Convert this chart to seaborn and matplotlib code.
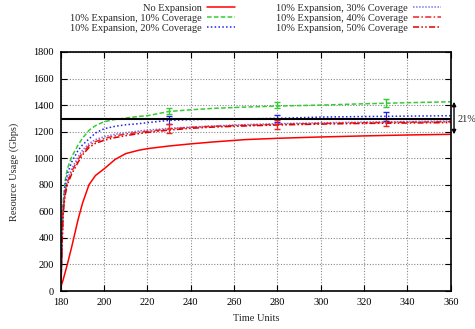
import numpy as np
import pandas as pd
import matplotlib
matplotlib.use("Agg")
import matplotlib.pyplot as plt
import seaborn as sns

# ---- data ----
t = [180, 181, 182, 183, 185, 188, 190, 193, 196, 200, 205, 210, 216, 220, 230, 240, 250, 265, 280, 300, 320, 340, 360]
no_exp  = [30, 80, 140, 200, 330, 540, 660, 800, 870, 920, 990, 1035, 1060, 1072, 1092, 1108, 1122, 1140, 1150, 1160, 1168, 1175, 1180]
cov10   = [0, 650, 830, 920, 1010, 1100, 1150, 1210, 1245, 1275, 1292, 1302, 1315, 1320, 1352, 1365, 1375, 1385, 1393, 1400, 1410, 1418, 1425]
cov20   = [0, 620, 800, 880, 970, 1060, 1100, 1145, 1190, 1222, 1240, 1252, 1260, 1268, 1285, 1290, 1293, 1296, 1300, 1310, 1314, 1317, 1320]
cov30   = [0, 600, 760, 840, 920, 1010, 1060, 1110, 1140, 1162, 1180, 1192, 1205, 1212, 1225, 1235, 1243, 1253, 1260, 1267, 1272, 1276, 1280]
cov40   = [0, 590, 740, 820, 900, 990, 1040, 1095, 1125, 1148, 1168, 1182, 1195, 1202, 1220, 1232, 1240, 1248, 1255, 1262, 1267, 1271, 1275]
cov50   = [0, 570, 720, 800, 880, 970, 1025, 1080, 1112, 1135, 1155, 1170, 1185, 1194, 1212, 1225, 1234, 1243, 1250, 1257, 1262, 1265, 1268]

err_t = [230, 280, 330]
err_cov10 = [1355, 1400, 1417]
err_cov10_e = [25, 25, 28]
err_cov20 = [1285, 1300, 1312]
err_cov20_e = [30, 28, 35]
err_cov40 = [1222, 1255, 1268]
err_cov40_e = [33, 33, 27]

labels = ["No Expansion",
          "10% Expansion, 10% Coverage",
          "10% Expansion, 20% Coverage",
          "10% Expansion, 30% Coverage",
          "10% Expansion, 40% Coverage",
          "10% Expansion, 50% Coverage"]
series = [no_exp, cov10, cov20, cov30, cov40, cov50]
colors = ["#ff0000", "#33cc33", "#2222ee", "#7777ee", "#ee2222", "#dd0000"]
styles = ["-", (0, (3, 1.5)), (0, (1, 1.5)), (0, (1, 1)), (0, (4, 1.5, 1, 1.5)), (0, (4, 1.5, 1, 1.5, 1, 1.5))]

ref_level = 1295
arrow_top, arrow_bot = 1425, 1180

# ---- plot ----
sns.set_style("ticks")
plt.rcParams["font.family"] = ["Liberation Serif", "DejaVu Serif"]
plt.rcParams["font.size"] = 7.5
FS = 7.5

df = pd.concat([pd.DataFrame({"t": t, "v": s, "series": lab}) for s, lab in zip(series, labels)])

fig = plt.figure(figsize=(4.75, 3.29), dpi=100)
ax = fig.add_axes([0.128, 0.1155, 0.821, 0.7265])

for lab, col, ls in zip(labels, colors, styles):
    sns.lineplot(data=df[df["series"] == lab], x="t", y="v", ax=ax, color=col,
                 linestyle=ls, linewidth=1.1, label=lab)

ax.errorbar(err_t, err_cov20, yerr=err_cov20_e, fmt="none", ecolor=colors[2], elinewidth=0.8, capsize=2)
ax.errorbar(err_t, err_cov10, yerr=err_cov10_e, fmt="none", ecolor=colors[1], elinewidth=1, capsize=2)
ax.errorbar(err_t, err_cov40, yerr=err_cov40_e, fmt="none", ecolor=colors[4], elinewidth=1, capsize=2)

ax.axhline(ref_level, color="black", linewidth=1.5, zorder=5)

ax.set_xlim(180, 360)
ax.set_ylim(0, 1800)
ax.set_xticks(range(180, 361, 20))
ax.set_yticks(range(0, 1801, 200))
ax.grid(True, color="#888888", linestyle=(0, (1, 1.5)), linewidth=0.8)
ax.tick_params(direction="in", top=True, right=True, length=4, labelsize=FS, colors="black", pad=5)
for sp in ax.spines.values():
    sp.set_linewidth(1.2)
    sp.set_color("black")
ax.set_xlabel("Time Units", fontsize=FS, labelpad=5)
ax.set_ylabel("Resource Usage (Gbps)", fontsize=FS, labelpad=10)

ax.annotate("", xy=(361.5, arrow_top), xytext=(361.5, arrow_bot), xycoords="data",
            arrowprops=dict(arrowstyle="<|-|>", color="black", lw=1, mutation_scale=6,
                            shrinkA=0, shrinkB=0),
            annotation_clip=False)
ax.text(363, ref_level, "21%", fontsize=FS, va="center", ha="left", clip_on=False)

ax.legend(loc="upper left", bbox_to_anchor=(65 / 475, 1 + 1.5 / 329), bbox_transform=fig.transFigure,
          ncol=2, markerfirst=False, frameon=False, fontsize=FS, borderpad=0,
          handlelength=2.7, columnspacing=3.9, labelspacing=0.05, handletextpad=0.5)

fig.savefig("out.png", dpi=100)
